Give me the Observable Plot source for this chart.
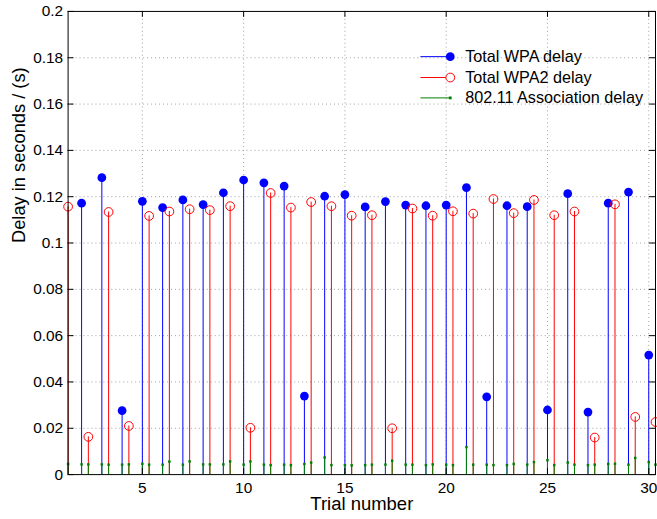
<!DOCTYPE html>
<html><head><meta charset="utf-8">
<script src="https://cdn.jsdelivr.net/npm/d3@7"></script>
<script src="https://cdn.jsdelivr.net/npm/@observablehq/plot@0.6"></script>
<style>
html,body{margin:0;padding:0;background:#fff;overflow:hidden;}
#chart{position:relative;width:657px;height:519px;overflow:hidden;}
</style>
</head><body><div id="chart"></div>
<script>
// ---- data ----
const wpaTrials = [2,3,4,5,6,7,8,9,10,11,12,13,14,15,16,17,18,19,20,21,22,23,24,25,26,27,28,29,30];
const wpaDelay = [0.1172,0.1282,0.0276,0.1180,0.1153,0.1186,0.1166,0.1217,0.1272,0.1260,0.1246,0.0339,0.1202,0.1209,0.1156,0.1179,0.1164,0.1161,0.1164,0.1239,0.0336,0.1161,0.1157,0.0279,0.1213,0.0270,0.1172,0.1220,0.0516];
const assocWPA = [0.0044,0.0044,0.0043,0.0047,0.0043,0.0043,0.0044,0.0044,0.0043,0.0043,0.0043,0.0046,0.0074,0.0041,0.0041,0.0043,0.0043,0.0041,0.0043,0.0119,0.0043,0.0041,0.0043,0.0062,0.0052,0.0041,0.0046,0.0043,0.0054];

const wpa2Trials = [1,2,3,4,5,6,7,8,9,10,11,12,13,14,15,16,17,18,19,20,21,22,23,24,25,26,27,28,29,30];
const wpa2Delay = [0.1157,0.0163,0.1134,0.0210,0.1117,0.1136,0.1146,0.1142,0.1159,0.0202,0.1216,0.1153,0.1177,0.1159,0.1118,0.1120,0.0200,0.1149,0.1118,0.1137,0.1127,0.1190,0.1129,0.1186,0.1120,0.1136,0.0160,0.1167,0.0249,0.0227];
const assocWPA2 = [0.0046,0.0044,0.0043,0.0044,0.0043,0.0056,0.0057,0.0044,0.0057,0.0057,0.0041,0.0041,0.0052,0.0041,0.0040,0.0043,0.0060,0.0043,0.0044,0.0041,0.0043,0.0041,0.0046,0.0054,0.0041,0.0043,0.0043,0.0047,0.0072,0.0043];
const wpa2Shift = 1/3; // WPA2 stems are drawn a third of a trial to the right

const xTicks = [5,10,15,20,25,30];
const yTicks = [0,0.02,0.04,0.06,0.08,0.1,0.12,0.14,0.16,0.18,0.2];
const seriesNames = ["Total WPA delay","Total WPA2 delay","802.11 Association delay"];
const colors = ["#0000ff","#ff0000","#008000"];

// ---- tables ----
const wpa = wpaTrials.map((t,i)=>({x:t, y:wpaDelay[i]}));
const wpa2 = wpa2Trials.map((t,i)=>({x:t+wpa2Shift, y:wpa2Delay[i]}));
const assoc = [
  ...wpaTrials.map((t,i)=>({x:t, y:assocWPA[i]})),
  ...wpa2Trials.map((t,i)=>({x:t+wpa2Shift, y:assocWPA2[i]}))
];

const W = 661, H = 519, mL = 68, mR = 2, mT = 11, mB = 42;
const pw = W - mL - mR, ph = H - mT - mB;
const tickLen = 6;
const font = "'Liberation Sans', Arial, Helvetica, sans-serif";
const fmt = d => d === 0 ? "0" : String(+d.toFixed(2));

const plot = Plot.plot({
  width: W, height: H,
  marginLeft: mL, marginRight: mR, marginTop: mT, marginBottom: mB,
  style: {fontFamily: font, fontSize: "15.5px", background: "#fff", color: "#000", overflow: "visible"},
  x: {domain: [1 + wpa2Shift, 30 + wpa2Shift]},
  y: {domain: [0, 0.2]},
  marks: [
    Plot.ruleX(xTicks, {stroke: "#a0a0a0", strokeDasharray: "1,3"}),
    Plot.ruleY(yTicks.slice(1, -1), {stroke: "#a0a0a0", strokeDasharray: "1,3"}),
    Plot.ruleX(wpa, {x: "x", y1: 0, y2: "y", stroke: colors[0], strokeWidth: 1}),
    Plot.dot(wpa, {x: "x", y: "y", r: 4.4, fill: colors[0], stroke: "none"}),
    Plot.ruleX(wpa2, {x: "x", y1: 0, y2: "y", stroke: colors[1], strokeWidth: 1}),
    Plot.dot(wpa2, {x: "x", y: "y", r: 4.4, fill: "none", stroke: colors[1], strokeWidth: 1}),
    Plot.ruleX(assoc, {x: "x", y1: 0, y2: "y", stroke: colors[2], strokeWidth: 1}),
    Plot.dot(assoc, {x: "x", y: "y", r: 1.4, symbol: "square", fill: colors[2], stroke: "none"}),
    Plot.frame({stroke: "#000"}),
    Plot.ruleX(xTicks, {insetTop: ph - tickLen, stroke: "#000"}),
    Plot.ruleX(xTicks, {insetBottom: ph - tickLen, stroke: "#000"}),
    Plot.ruleY(yTicks, {insetRight: pw - tickLen, stroke: "#000"}),
    Plot.ruleY(yTicks, {insetLeft: pw - tickLen, stroke: "#000"}),
    Plot.axisX({ticks: xTicks, tickSize: 0, tickPadding: 7, label: null, fontSize: 15.5, tickFormat: d => String(d)}),
    Plot.axisY({ticks: yTicks, tickSize: 0, tickPadding: 5, label: null, fontSize: 15.5, tickFormat: fmt}),
    Plot.text(["Trial number"], {text: d => d, frameAnchor: "bottom", dy: 36, lineAnchor: "bottom", fontSize: 18.6}),
    Plot.text(["Delay in seconds / (s)"], {text: d => d, frameAnchor: "left", dx: -43, rotate: -90, lineAnchor: "bottom", fontSize: 18.4})
  ]
});

// ---- legend ----
const svg = d3.select(plot);
const lg = svg.append("g").attr("font-family", font).attr("font-size", "16.3px").attr("text-anchor", "start");
const rowsY = [57, 78, 98.5];
seriesNames.forEach((name, i) => {
  const y = rowsY[i];
  lg.append("line").attr("x1", 423).attr("x2", 453).attr("y1", y).attr("y2", y)
    .attr("stroke", colors[i]).attr("stroke-width", 1);
  if (i === 0) lg.append("circle").attr("cx", 453).attr("cy", y).attr("r", 4.4).attr("fill", colors[0]);
  if (i === 1) lg.append("circle").attr("cx", 453).attr("cy", y).attr("r", 4.4).attr("fill", "#fff").attr("stroke", colors[1]);
  if (i === 2) lg.append("rect").attr("x", 451.6).attr("y", y - 1.4).attr("width", 2.8).attr("height", 2.8).attr("fill", colors[2]);
  lg.append("text").attr("x", 468).attr("y", y + 5.6).attr("fill", "#000").attr("text-anchor", "start").text(name);
});

document.getElementById("chart").appendChild(plot);
</script>
</body></html>
